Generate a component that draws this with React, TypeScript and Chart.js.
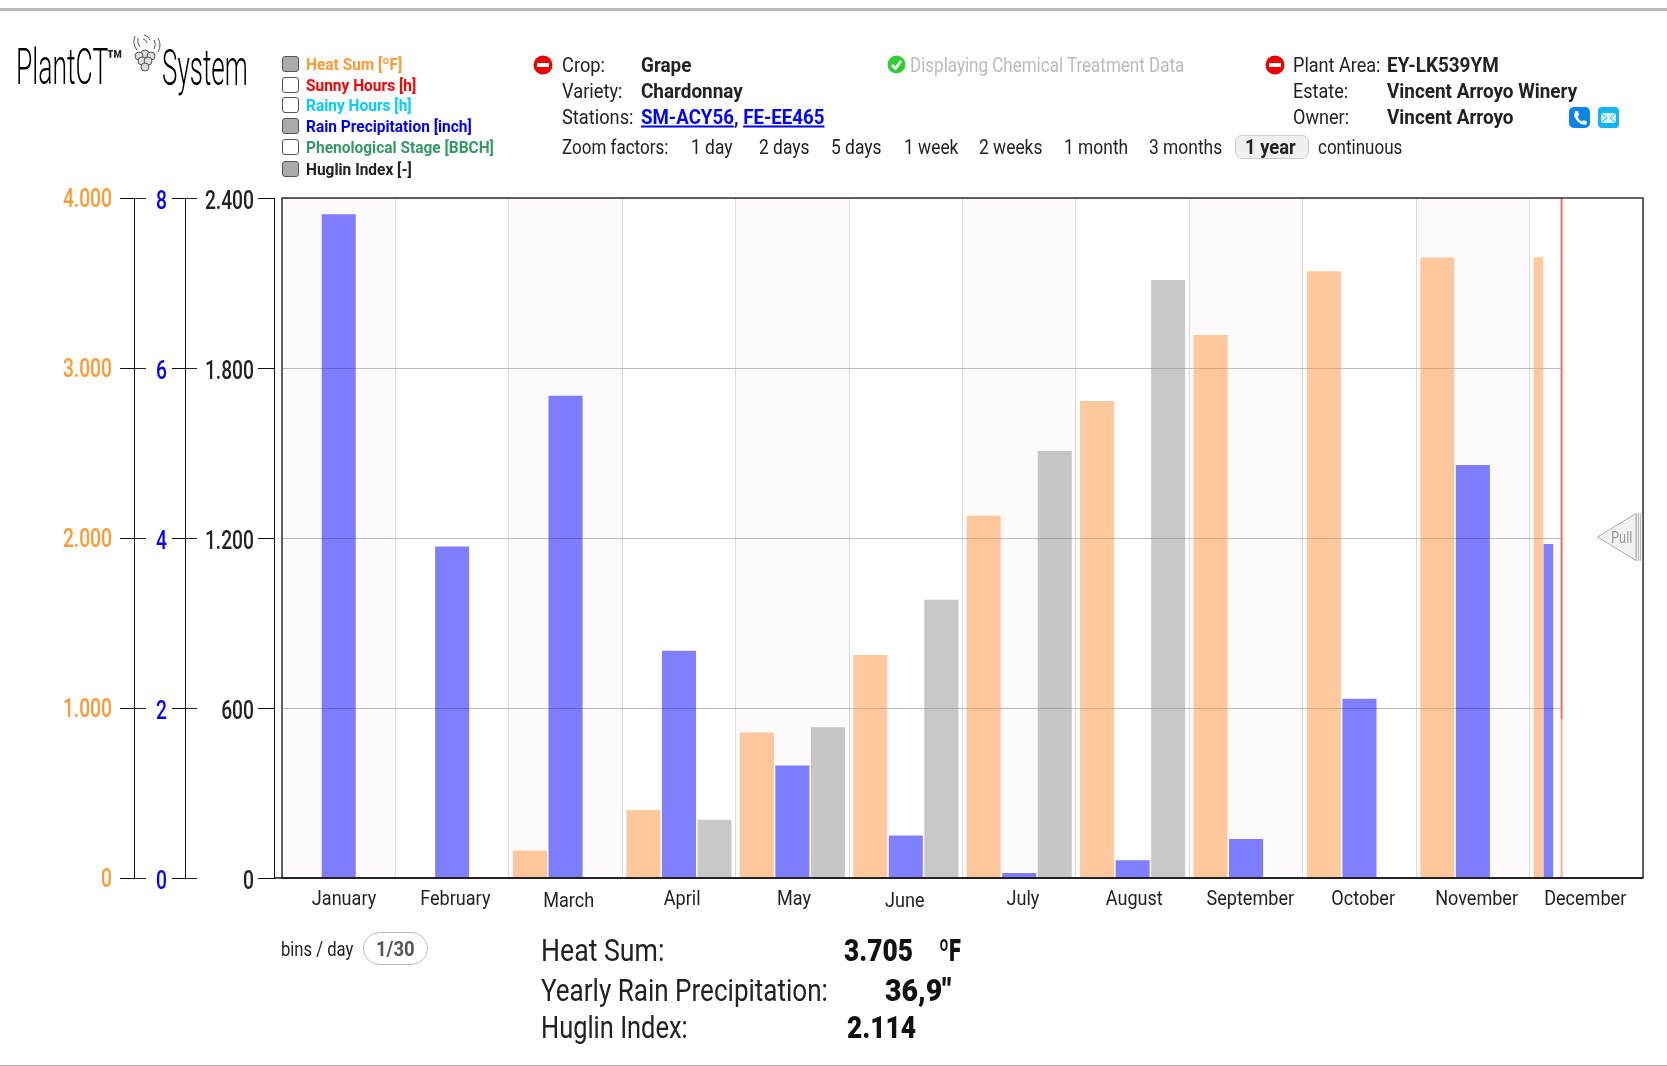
import React, { useEffect, useRef } from "react";
import { Chart, registerables, BarController } from "chart.js";

Chart.register(...registerables);
// The December partial bin has its own index axis; it must not halve the month groups.
(BarController.prototype as any)._getAxisCount = function () { return 1; };

const months = ["January","February","March","April","May","June","July","August","September","October","November","December"];
const heatSum = [0,0,162,400,856,1312,2131,2806,3194,3569,3650,null];
const rainPrecip = [7.81,3.9,5.675,2.675,1.325,0.5,0.06,0.21,0.46,2.11,4.86,null];
const huglin = [0,0,0,206,532,982,1507,2111,null,null,null,null];
const partialHeat = [{ x: 11.078, y: 3650 }];
const partialRain = [{ x: 11.166, y: 3.925 }];
const nowMonth = 11.282;

const FONT = 'Roboto, sans-serif';
const ORANGE = "#FF9933";
const BLUE = "#0000FF";
const DARK = "#222222";
const k = 1667 / 1568;
const monthLabelNudgeX = [5, 3, 3, 3, 1.5, -1, 3.5, 1.5, 4, 3.5, 3.5, -1];
const monthLabelNudgeY = [0, 0, 2, 0, 0, 2, 0, 0, 0, 0, 0, 0];

const numFmt = (v: any) => String(v).replace(/\B(?=(\d{3})+(?!\d))/g, ".");

// Tick labels in the reference are condensed: squeeze them horizontally on the canvas.
const condense = (sx: number, nudge: (i: number) => [number, number]) => (scale: any) => {
  if (scale.__condensed) return;
  scale.__condensed = true;
  const getItems = scale.getLabelItems.bind(scale);
  const draw = scale.drawLabels.bind(scale);
  scale._computeLabelArea = () => undefined;
  scale.getLabelItems = (area: any) =>
    getItems(area).map((it: any, i: number) => {
      const [dx, dy] = nudge(i);
      const [tx, ty] = it.options.translation;
      return { ...it, options: { ...it.options, translation: [(tx + dx) / sx, ty + dy] } };
    });
  scale.drawLabels = (area: any) => {
    const ctx = scale.ctx;
    ctx.save();
    ctx.scale(sx, 1);
    draw(area);
    ctx.restore();
  };
};

const plotDecor = {
  id: "plotDecor",
  beforeDraw(c: any) {
    const { ctx, chartArea: a } = c;
    ctx.save();
    ctx.fillStyle = "#FCFAFB";
    const w = a.width / 12;
    months.forEach((_, i) => { if (i % 2 === 0) ctx.fillRect(a.left + i * w, a.top, w, a.height); });
    ctx.restore();
  },
  beforeDatasetsDraw(c: any) {
    const { ctx, chartArea: a, scales } = c;
    const nx = scales.xPartial.getPixelForValue(nowMonth);
    ctx.save();
    ctx.fillStyle = "#FFFFFF";
    ctx.fillRect(nx, a.top, a.right - nx, a.height);
    ctx.restore();
  },
  afterDatasetsDraw(c: any) {
    const { ctx, chartArea: a, scales } = c;
    const nx = scales.xPartial.getPixelForValue(nowMonth);
    const split = scales.yDark.getPixelForValue(560);
    ctx.save();
    ctx.lineWidth = 2;
    ctx.strokeStyle = "#F46A6A";
    ctx.beginPath(); ctx.moveTo(nx, a.top); ctx.lineTo(nx, split); ctx.stroke();
    ctx.strokeStyle = "#FBAAAA";
    ctx.beginPath(); ctx.moveTo(nx, split); ctx.lineTo(nx, a.bottom); ctx.stroke();
    ctx.strokeStyle = "#333333";
    ctx.lineWidth = 1.5;
    ctx.strokeRect(a.left, a.top, a.width, a.height);
    ctx.strokeStyle = "#111111";
    ctx.beginPath(); ctx.moveTo(a.left - 8, a.bottom); ctx.lineTo(a.right, a.bottom); ctx.stroke();
    ctx.strokeStyle = DARK;
    ctx.lineWidth = 1;
    [["yOrange", 12], ["yBlue", 12]].forEach(([id, len]: any) => {
      const s = scales[id];
      s.ticks.forEach((t: any) => {
        const y = Math.round(s.getPixelForValue(t.value)) + 0.5;
        ctx.beginPath(); ctx.moveTo(s.right, y); ctx.lineTo(s.right + len, y); ctx.stroke();
      });
    });
    ctx.restore();
  },
};

const yAxis = (max: number, step: number, color: string, weight: number, width: number, tickLen: number, onArea: boolean, dy: number, padding: number) => ({
  type: "linear",
  position: "left",
  weight,
  min: 0,
  max,
  afterFit: (s: any) => { s.width = width; },
  afterUpdate: condense(0.77, () => [0, dy]),
  border: { display: true, color: "#111111", width: 1 },
  grid: { drawOnChartArea: onArea, color: "#BDBDBD", tickColor: "#111111", tickLength: tickLen, lineWidth: 1 },
  ticks: { stepSize: step, color, padding, font: { family: FONT, size: 25, weight: "500" }, callback: numFmt },
});

const T = ({ x, y, s = 21, b = false, c = "#222", sx = 0.89, w, children }: any) => (
  <span style={{ position: "absolute", left: x * k, top: y * k, fontFamily: FONT, fontSize: s, fontWeight: w ?? (b ? 700 : 400), color: c,
    whiteSpace: "nowrap", lineHeight: 1,
    transform: `translateY(-50%) scaleX(${sx})`, transformOrigin: "left center" }}>{children}</span>
);

const NoEntry = ({ x, y }: any) => (
  <svg style={{ position: "absolute", left: x * k - 10, top: y * k - 10 }} width="20" height="20">
    <circle cx="10" cy="10" r="9.5" fill="#EE0000" /><rect x="4" y="8" width="12" height="4" fill="#fff" />
  </svg>
);

const Box = ({ y, on }: any) => (
  <div style={{ position: "absolute", left: 282, top: y * k - 8, width: 15, height: 14, borderRadius: 3, border: "1.5px solid #555", background: on ? "#AAAAAA" : "#fff" }} />
);

const legendRows = [
  { name: "Heat Sum [ºF]", color: ORANGE, on: true, y: 60.5 },
  { name: "Sunny Hours [h]", color: "#FF0000", on: false, y: 79.5 },
  { name: "Rainy Hours [h]", color: "#00CCFF", on: false, y: 99 },
  { name: "Rain Precipitation [inch]", color: BLUE, on: true, y: 118.5 },
  { name: "Phenological Stage [BBCH]", color: "#339966", on: false, y: 138.5 },
  { name: "Huglin Index [-]", color: "#222", on: true, y: 158.5 },
];
const zoomFactors: [string, number][] = [["1 day",650],["2 days",714],["5 days",782],["1 week",850],["2 weeks",921],["1 month",1001],["3 months",1081]];

export default function App() {
  const ref = useRef<HTMLCanvasElement>(null);
  useEffect(() => {
    const chart = new Chart(ref.current as any, {
      type: "bar",
      data: {
        labels: months,
        datasets: [
          { label: "Heat Sum", data: heatSum, yAxisID: "yOrange", xAxisID: "x", backgroundColor: "rgba(255,145,60,0.5)", categoryPercentage: 0.94, barPercentage: 0.958 },
          { label: "Rain Precipitation", data: rainPrecip, yAxisID: "yBlue", xAxisID: "x", backgroundColor: "rgba(0,0,255,0.5)", categoryPercentage: 0.94, barPercentage: 0.958 },
          { label: "Huglin Index", data: huglin, yAxisID: "yDark", xAxisID: "x", backgroundColor: "rgba(145,145,145,0.5)", categoryPercentage: 0.94, barPercentage: 0.958 },
          { label: "Heat Sum (partial)", data: partialHeat, yAxisID: "yOrange", xAxisID: "xPartial", backgroundColor: "rgba(255,145,60,0.5)", grouped: false, barThickness: 9 },
          { label: "Rain Precipitation (partial)", data: partialRain, yAxisID: "yBlue", xAxisID: "xPartial", backgroundColor: "rgba(0,0,255,0.5)", grouped: false, barThickness: 9 },
        ],
      },
      options: {
        responsive: false,
        animation: false,
        layout: { padding: { top: 198, left: 0, right: 24, bottom: 148 } },
        plugins: { legend: { display: false }, tooltip: { enabled: false } },
        scales: {
          x: {
            type: "category",
            afterFit: (s: any) => { s.height = 40; },
            afterUpdate: condense(0.86, (i) => [monthLabelNudgeX[i] * k, monthLabelNudgeY[i]]),
            border: { display: false },
            grid: { offset: true, color: "#DADADA", drawTicks: false },
            ticks: { color: DARK, padding: 9, maxRotation: 0, autoSkip: false, font: { family: FONT, size: 21 } },
          },
          xPartial: { type: "linear", display: false, offset: false, min: 0, max: 12, grid: { offset: false } },
          yDark: yAxis(2400, 600, DARK, 2, 89, 16, true, 5, 4),
          yBlue: yAxis(8, 2, BLUE, 3, 51, 13, false, 5, 5),
          yOrange: yAxis(4000, 1000, ORANGE, 4, 134, 14, false, 3, 8),
          spacer: {
            type: "linear", position: "left", weight: 1,
            afterFit: (s: any) => { s.width = 8; },
            border: { display: false }, grid: { display: false }, ticks: { display: false },
          },
        },
      } as any,
      plugins: [plotDecor],
    } as any);
    return () => chart.destroy();
  }, []);

  const boldLink = { color: BLUE, textDecoration: "underline" };
  return (
    <div style={{ position: "absolute", left: 0, top: 0, width: 1667, height: 1066, overflow: "hidden", background: "#fff" }}>
      <canvas ref={ref} width={1667} height={1066} style={{ position: "absolute", left: 0, top: 0, display: "block" }} />
      <div style={{ position: "absolute", left: 0, right: 0, top: 8, height: 2.5, background: "#BBBBBB" }} />
      <div style={{ position: "absolute", left: 0, right: 0, top: 1064.5, height: 1.5, background: "#AAAAAA" }} />

      <T x={15} y={63} s={50} w={300} c="#000" sx={0.53}>PlantCT</T>
      <T x={100} y={57} s={30} b c="#222" sx={0.9}>™</T>
      <T x={152} y={64} s={50} w={300} c="#000" sx={0.52}>System</T>
      <svg style={{ position: "absolute", left: 130, top: 32 }} width="32" height="44" fill="none" stroke="#555" strokeWidth="1">
        <circle cx="15" cy="22" r="4" fill="#ddd" /><circle cx="9" cy="24" r="4" fill="#ddd" /><circle cx="21" cy="24" r="4" fill="#ddd" />
        <circle cx="12" cy="29" r="4" fill="#ddd" /><circle cx="18" cy="29" r="4" fill="#ddd" /><circle cx="15" cy="35" r="4" fill="#ddd" />
        <path d="M5 4 A14 14 0 0 0 7 18 M8 6 A10 10 0 0 0 10 15 M28 6 A14 14 0 0 1 28 20 M24 8 A9 9 0 0 1 24 17 M14 3 A8 8 0 0 1 20 8 M13 7 A5 5 0 0 1 17 11" />
      </svg>

      {legendRows.map((r) => (
        <React.Fragment key={r.name}>
          <Box y={r.y} on={r.on} />
          <T x={287.5} y={r.y} s={17} b c={r.color} sx={0.91}>{r.name}</T>
        </React.Fragment>
      ))}

      <NoEntry x={511} y={61} />
      <T x={529} y={61.5} sx={0.87}>Crop:</T><T x={603} y={61.5} b sx={0.9}>Grape</T>
      <T x={529} y={85.5} sx={0.87}>Variety:</T><T x={603} y={85.5} b sx={0.9}>Chardonnay</T>
      <T x={529} y={110} sx={0.87}>Stations:</T>
      <T x={603} y={110} b sx={0.89}><span style={boldLink}>SM-ACY56</span>, <span style={boldLink}>FE-EE465</span></T>
      <T x={529} y={138.5} s={20} sx={0.85}>Zoom factors:</T>
      {zoomFactors.map(([t, x]) => <T key={t} x={x} y={138.5} s={20} sx={0.87}>{t}</T>)}
      <div style={{ position: "absolute", left: 1162 * k, top: 127 * k, width: 69 * k, height: 23 * k, boxSizing: "border-box", borderRadius: 7, border: "1px solid #ccc", background: "#F0F0F0" }} />
      <T x={1171} y={138.5} s={20} b sx={0.92}>1 year</T>
      <T x={1240} y={138.5} s={20} sx={0.85}>continuous</T>

      <svg style={{ position: "absolute", left: 843 * k - 9, top: 61 * k - 10 }} width="19" height="19">
        <circle cx="9.5" cy="9.5" r="9" fill="#33CC33" /><path d="M5 10 L8.5 13.5 L14 6" fill="none" stroke="#fff" strokeWidth="2.6" />
      </svg>
      <T x={856} y={61.5} c="#BBBBBB" sx={0.81}>Displaying Chemical Treatment Data</T>

      <NoEntry x={1199} y={61} />
      <T x={1216} y={61.5} sx={0.86}>Plant Area:</T><T x={1305} y={61.5} b sx={0.9}>EY-LK539YM</T>
      <T x={1216} y={85.5} sx={0.86}>Estate:</T><T x={1305} y={85.5} b sx={0.9}>Vincent Arroyo Winery</T>
      <T x={1216} y={110} sx={0.86}>Owner:</T><T x={1305} y={110} b sx={0.9}>Vincent Arroyo</T>
      <svg style={{ position: "absolute", left: 1476 * k, top: 101 * k }} width="21" height="21">
        <rect width="21" height="21" rx="5" fill="#0A84E8" /><path d="M6 4 L9 4 L10 8 L8.5 9.5 Q10 13 13 14.5 L14.5 13 L18 14.5 L17.5 17.5 Q10 19 5 9 Z" fill="#fff" />
      </svg>
      <svg style={{ position: "absolute", left: 1503 * k, top: 101 * k }} width="21" height="21">
        <rect width="21" height="21" rx="4" fill="#12B5F0" /><rect x="3" y="6" width="15" height="10" fill="#DDF5FF" /><path d="M3 6 L9 11 M18 6 L12 11 M3 16 L9 11 M18 16 L12 11" stroke="#12B5F0" fill="none" />
      </svg>

      <svg style={{ position: "absolute", left: 1596, top: 512 }} width="48" height="50">
        <path d="M1.5 25 L40 1.5 L40 48.5 Z" fill="#F2F2F2" stroke="#AAAAAA" strokeWidth="1" />
        <rect x="40" y="1" width="5" height="48" fill="#BBBBBB" /><path d="M41.5 1 V49 M43.5 1 V49" stroke="#EEEEEE" />
      </svg>
      <T x={1515.5} y={506.5} s={16} c="#999999" sx={0.8}>Pull</T>

      <T x={264} y={893} s={20} sx={0.83}>bins / day</T>
      <div style={{ position: "absolute", left: 341 * k, top: 877 * k, width: 62 * k, height: 31 * k, boxSizing: "border-box", borderRadius: 17, border: "1.5px solid #BBBBBB" }} />
      <T x={354} y={893} s={21} b c="#555" sx={0.88}>1/30</T>

      <T x={509} y={894} s={31} sx={0.86}>Heat Sum:</T>
      <T x={794} y={894} s={31} w={900} c="#111" sx={0.85}>3.705</T><T x={883} y={894} s={31} w={900} c="#111" sx={0.7}>ºF</T>
      <T x={509} y={931} s={31} sx={0.84}>Yearly Rain Precipitation:</T>
      <T x={832} y={931} s={31} w={900} c="#111" sx={0.92}>36,9"</T>
      <T x={509} y={966} s={31} sx={0.82}>Huglin Index:</T>
      <T x={797} y={966} s={31} w={900} c="#111" sx={0.85}>2.114</T>
    </div>
  );
}
